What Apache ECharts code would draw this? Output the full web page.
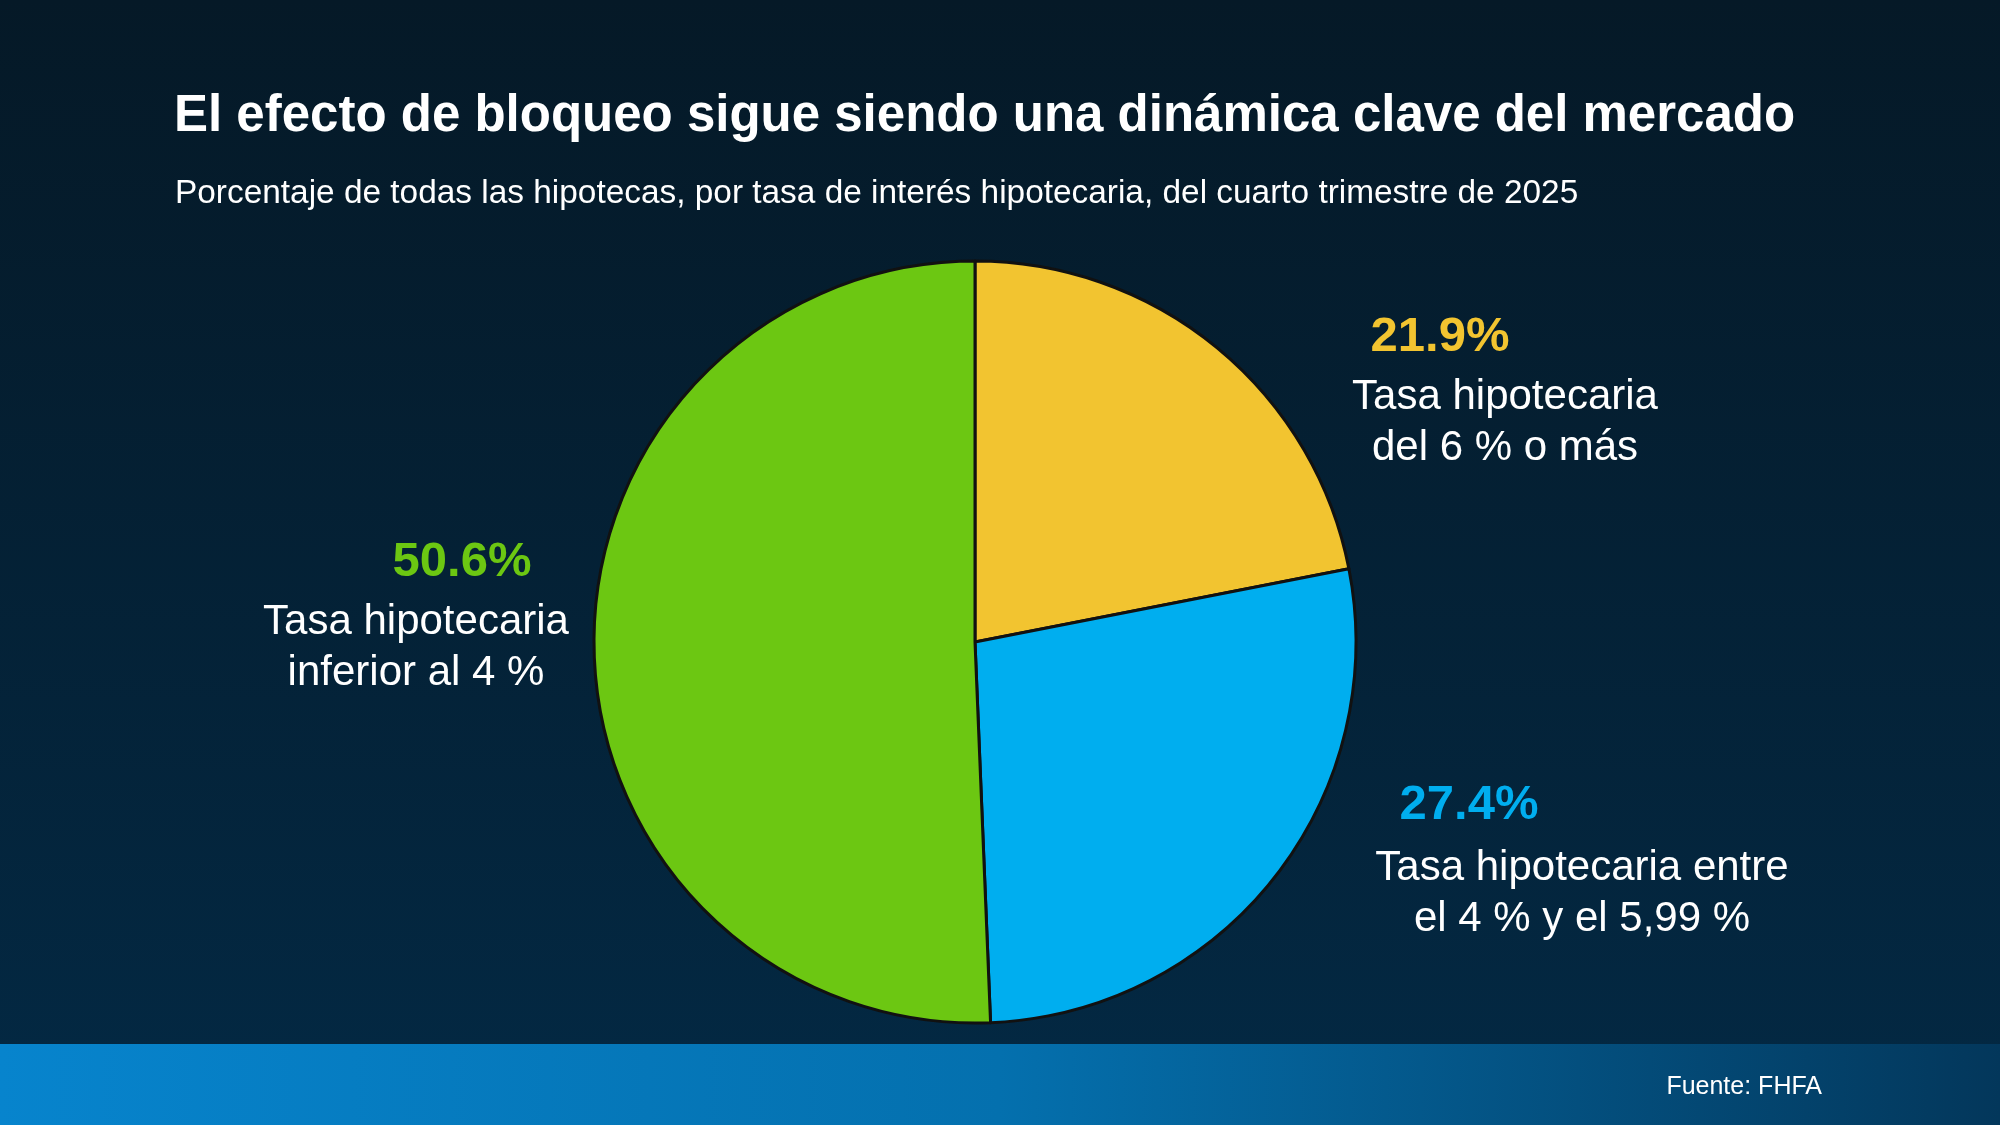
<!DOCTYPE html>
<html>
<head>
<meta charset="utf-8">
<script src="https://cdn.jsdelivr.net/npm/echarts@6/dist/echarts.min.js"></script>
<style>
  html, body { margin: 0; padding: 0; }
  #chart { width: 2000px; height: 1125px; }
</style>
</head>
<body>
<div id="chart"></div>
<script>
// --- datos ---
const categories = ['Tasa hipotecaria\ndel 6 % o más', 'Tasa hipotecaria entre\nel 4 % y el 5,99 %', 'Tasa hipotecaria\ninferior al 4 %'];
const shares = [21.9, 27.4, 50.6];
const colors = ['#F2C430', '#00AEEF', '#6CC712'];

// posición de cada etiqueta (centro del bloque) y desplazamiento del porcentaje
const labelPos = [[1505, 388], [1582, 856], [416, 613]];
const pctShift = [-65, -113, 46];
const pctLineH = [70, 76, 70];

const FONT = '"Liberation Sans", Arial, Helvetica, sans-serif';
const chart = echarts.init(document.getElementById('chart'));

const rich = { t: { color: '#fff', fontSize: 42, lineHeight: 51, fontFamily: FONT } };
shares.forEach((v, i) => {
  const s = pctShift[i];
  rich['p' + i] = {
    color: colors[i], fontSize: 49, fontWeight: 'bold', fontFamily: FONT,
    lineHeight: pctLineH[i],
    padding: s < 0 ? [0, -2 * s, 0, 0] : [0, 0, 0, 2 * s],
  };
});

chart.setOption({
  backgroundColor: new echarts.graphic.LinearGradient(0, 0, 0, 1, [
    { offset: 0, color: '#051927' },
    { offset: 1, color: '#032944' },
  ]),
  title: [
    {
      text: 'El efecto de bloqueo sigue siendo una dinámica clave del mercado',
      left: 169, top: 86,
      textStyle: { color: '#fff', fontSize: 51, fontWeight: 'bold', fontFamily: FONT },
    },
    {
      text: 'Porcentaje de todas las hipotecas, por tasa de interés hipotecaria, del cuarto trimestre de 2025',
      left: 170, top: 172,
      textStyle: { color: '#fff', fontSize: 33.4, fontWeight: 'normal', fontFamily: FONT },
    },
    {
      text: 'Fuente: FHFA',
      right: 173, top: 1070,
      textStyle: { color: '#fff', fontSize: 25, fontWeight: 'normal', fontFamily: FONT },
      z: 10,
    },
  ],
  graphic: [{
    type: 'rect', left: 0, top: 1044, z: -1,
    shape: { width: 2000, height: 81 },
    style: {
      fill: new echarts.graphic.LinearGradient(0, 0, 1, 0.3, [
        { offset: 0, color: '#0784CD' },
        { offset: 0.5, color: '#0470AE' },
        { offset: 1, color: '#03375B' },
      ]),
    },
  }],
  series: [{
    type: 'pie',
    center: [975, 642],
    radius: 381,
    startAngle: 90,
    clockwise: true,
    silent: true,
    itemStyle: { borderColor: '#111', borderWidth: 3 },
    label: {
      show: true,
      position: 'outside',
      align: 'center',
      formatter: (p) => `{p${p.dataIndex}|${p.value}%}\n{t|${p.name.split('\n').join('}\n{t|')}}`,
      rich,
    },
    labelLine: { show: false },
    labelLayout: (p) => ({
      x: labelPos[p.dataIndex][0], y: labelPos[p.dataIndex][1],
      align: 'center', verticalAlign: 'middle',
    }),
    data: shares.map((v, i) => ({ value: v, name: categories[i], itemStyle: { color: colors[i] } })),
  }],
});
</script>
</body>
</html>
